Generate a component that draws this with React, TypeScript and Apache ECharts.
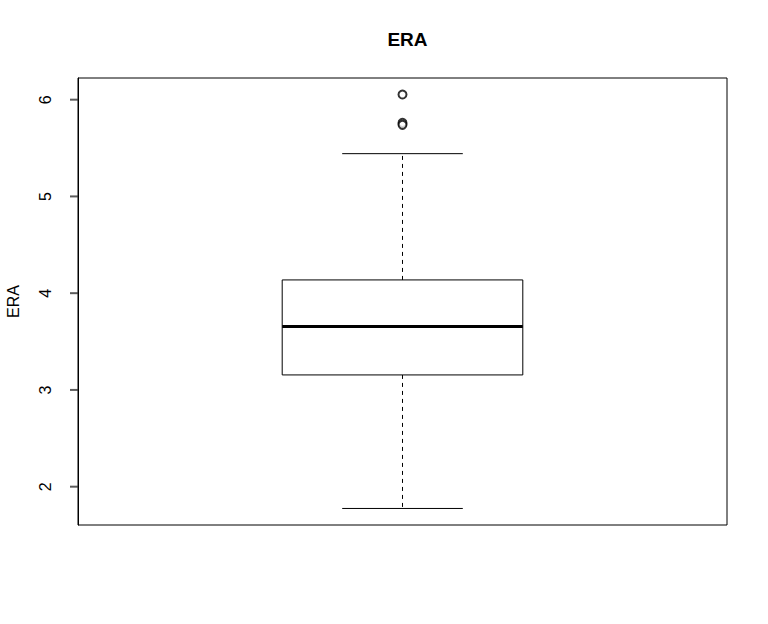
import React, { useEffect, useRef } from "react";
import * as echarts from "echarts";

// Box statistics (ERA)
const boxStats = [[1, 1.775, 3.155, 3.655, 4.137, 5.442]]; // x, low whisker, Q1, median, Q3, high whisker
const outliers = [6.053, 5.76, 5.74];
const yTicks = [2, 3, 4, 5, 6];
const yMin = 1.604;
const yMax = 6.224;

export default function App() {
  const ref = useRef<HTMLDivElement>(null);
  useEffect(() => {
    if (!ref.current) return;
    const chart = echarts.init(ref.current, null, { renderer: "svg" });
    const halfBox = 120.3;
    const halfStaple = 60.3;
    const font = "Liberation Sans, Arial, sans-serif";
    chart.setOption({
      animation: false,
      backgroundColor: "#fff",
      textStyle: { fontFamily: font, color: "#000" },
      title: {
        text: "ERA",
        left: 402.5,
        top: 25,
        textAlign: "center",
        textStyle: { fontSize: 19, fontWeight: "bold", color: "#000", fontFamily: font },
      },
      grid: {
        left: 78,
        right: 41,
        top: 78,
        bottom: 99,
        show: true,
        borderColor: "#000",
        borderWidth: 1,
        backgroundColor: "transparent",
        containLabel: false,
        outerBoundsMode: "none",
      },
      xAxis: {
        type: "value",
        min: 0.5,
        max: 1.5,
        show: false,
      },
      yAxis: {
        type: "value",
        min: yMin,
        max: yMax,
        name: "ERA",
        nameLocation: "middle",
        nameGap: 57,
        nameRotate: 90,
        nameTextStyle: { fontSize: 16, color: "#000", fontFamily: font },
        axisLine: { show: true, lineStyle: { color: "#000", width: 1 } },
        splitLine: { show: false },
        axisTick: { show: false },
        axisLabel: {
          show: true,
          customValues: yTicks,
          rotate: 90,
          margin: 25,
          fontSize: 16,
          color: "#000",
          fontFamily: font,
        },
      },
      series: [
        {
          type: "custom",
          data: boxStats,
          renderItem: (params: any, api: any) => {
            const x = api.value(0);
            const pLow = api.coord([x, api.value(1)]);
            const pQ1 = api.coord([x, api.value(2)]);
            const pMed = api.coord([x, api.value(3)]);
            const pQ3 = api.coord([x, api.value(4)]);
            const pHigh = api.coord([x, api.value(5)]);
            const cx = pMed[0];
            return {
              type: "group",
              children: [
                {
                  type: "line",
                  shape: { x1: cx, y1: pQ3[1], x2: cx, y2: pHigh[1] },
                  style: { stroke: "#000", lineWidth: 1, lineDash: [4, 4] },
                },
                {
                  type: "line",
                  shape: { x1: cx, y1: pQ1[1], x2: cx, y2: pLow[1] },
                  style: { stroke: "#000", lineWidth: 1, lineDash: [4, 4] },
                },
                {
                  type: "line",
                  shape: { x1: cx - halfStaple, y1: pHigh[1], x2: cx + halfStaple, y2: pHigh[1] },
                  style: { stroke: "#000", lineWidth: 1 },
                },
                {
                  type: "line",
                  shape: { x1: cx - halfStaple, y1: pLow[1], x2: cx + halfStaple, y2: pLow[1] },
                  style: { stroke: "#000", lineWidth: 1 },
                },
                {
                  type: "rect",
                  shape: { x: cx - halfBox, y: pQ3[1], width: halfBox * 2, height: pQ1[1] - pQ3[1] },
                  style: { fill: "#fff", stroke: "#000", lineWidth: 1 },
                },
                {
                  type: "line",
                  shape: { x1: cx - halfBox, y1: pMed[1], x2: cx + halfBox, y2: pMed[1] },
                  style: { stroke: "#000", lineWidth: 3 },
                },
              ],
            };
          },
        },
        {
          type: "scatter",
          data: outliers.map((v) => [1, v]),
          symbol: "emptyCircle",
          symbolSize: 8,
          itemStyle: { color: "#000", borderColor: "#000", borderWidth: 1 },
        },
        {
          type: "scatter",
          data: yTicks.map((v) => [0.5, v]),
          symbol: "rect",
          symbolSize: [8, 2],
          symbolOffset: [-4, 0],
          clip: false,
          silent: true,
          itemStyle: { color: "#333" },
        },
      ],
    });
    return () => chart.dispose();
  }, []);
  return (
    <div
      ref={ref}
      style={{ position: "absolute", left: 0, top: 0, width: 768, height: 624, background: "#fff" }}
    />
  );
}
